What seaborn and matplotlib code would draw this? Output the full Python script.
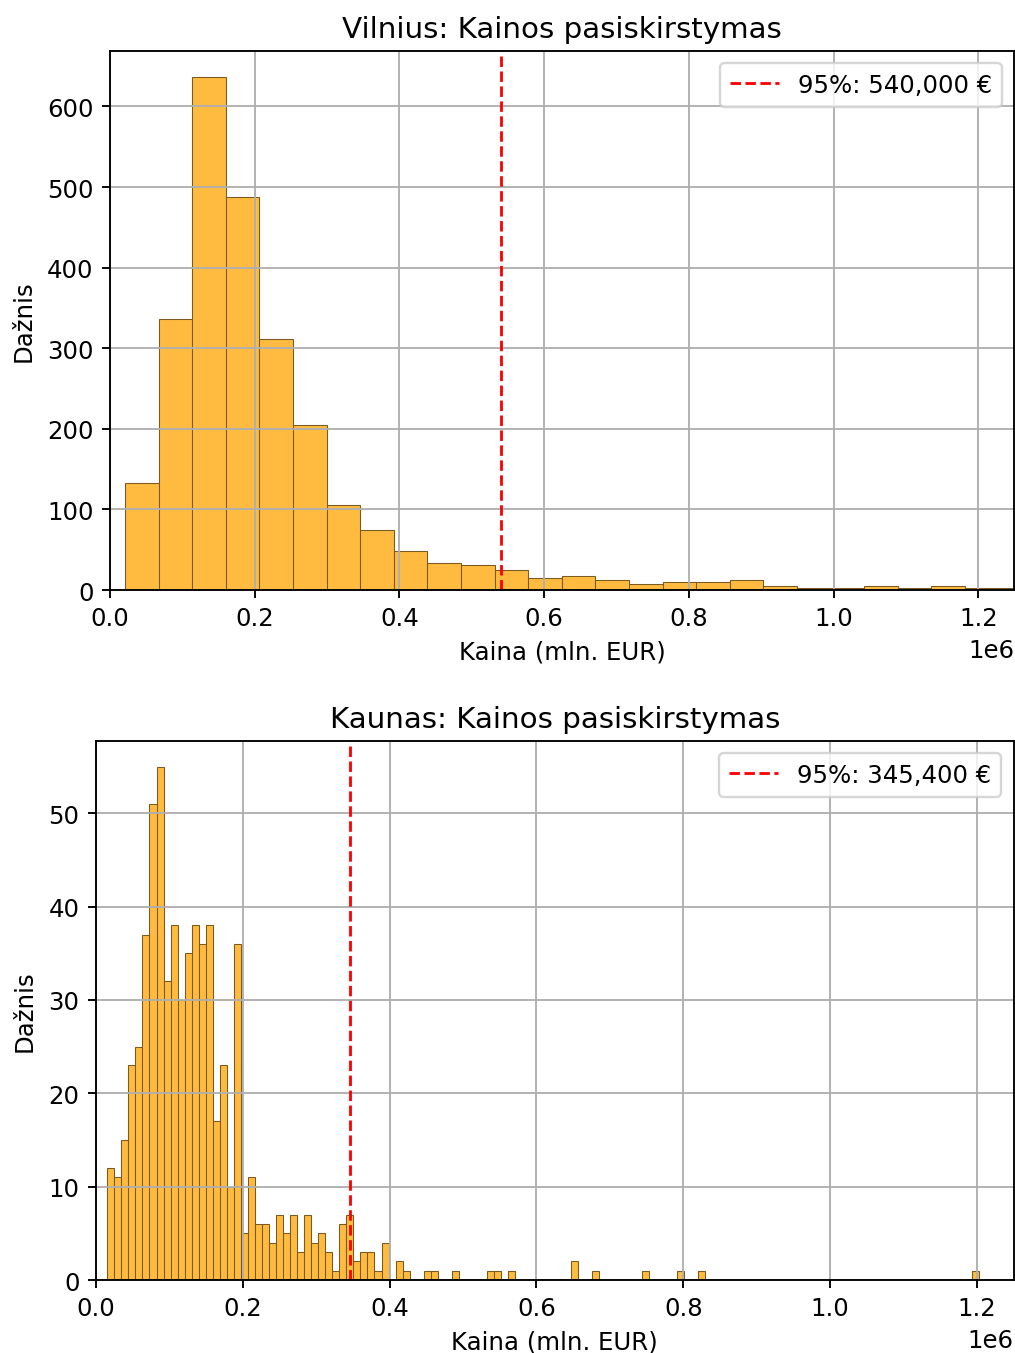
import numpy as np
import seaborn as sns
import pandas as pd
from matplotlib import pyplot as plt

# Vilnius histogram: bin start, bin width and counts per bin
vilnius_start = 20700
vilnius_width = 46440
vilnius_counts = [133, 336, 637, 488, 312, 205, 105, 74, 49, 33,
                  31, 25, 15, 18, 12, 7, 10, 10, 12, 5,
                  2, 2, 5, 2, 5, 2, 2]
vilnius_p95 = 540000

# Kaunas histogram
kaunas_start = 15400
kaunas_width = 9578
kaunas_counts = [12, 11, 15, 23, 25, 37, 51, 55, 32, 38, 30, 35, 38, 36, 38, 17, 23, 10, 36, 5,
                 11, 6, 6, 4, 7, 5, 7, 3, 7, 4, 5, 3, 1, 6, 7, 2, 3, 3, 1, 4,
                 0, 2, 1, 0, 0, 1, 1, 0, 0, 1, 0, 0, 0, 0, 1, 1, 0, 1, 0, 0,
                 0, 0, 0, 0, 0, 0, 2, 0, 0, 1, 0, 0, 0, 0, 0, 0, 1, 0, 0, 0,
                 0, 1, 0, 0, 1, 0, 0, 0, 0, 0, 0, 0, 0, 0, 0, 0, 0, 0, 0, 0,
                 0, 0, 0, 0, 0, 0, 0, 0, 0, 0, 0, 0, 0, 0, 0, 0, 0, 0, 0, 0,
                 0, 0, 0, 1]
kaunas_p95 = 345400

cities = [
    ("Vilnius", vilnius_start, vilnius_width, vilnius_counts, vilnius_p95),
    ("Kaunas", kaunas_start, kaunas_width, kaunas_counts, kaunas_p95),
]

plt.rcParams['font.size'] = 10.4
plt.rcParams['axes.titlesize'] = 12.5

fig = plt.figure(figsize=(6, 7.996), dpi=169.333)
positions = [[0.1083, 0.5635, 0.8902, 0.3981],
             [0.0945, 0.0539, 0.9031, 0.3981]]

for (city, start, width, counts, p95), pos in zip(cities, positions):
    ax = fig.add_axes(pos)
    edges = start + width * np.arange(len(counts) + 1)
    df = pd.DataFrame({'kaina': (edges[:-1] + edges[1:]) / 2, 'n': counts})
    sns.histplot(data=df, x='kaina', weights='n', bins=list(edges), ax=ax,
                 color='orange', alpha=0.75, edgecolor='#7a5a1e', linewidth=0.45)
    # 95th percentile marker
    ax.axvline(p95, color='red', linestyle='--', linewidth=1.2,
               label=f"95%: {p95:,.0f} €")
    ax.set_xlim(0, 1.25e6)
    ax.set_title(f"{city}: Kainos pasiskirstymas")
    ax.set_xlabel("Kaina (mln. EUR)")
    ax.set_ylabel("Dažnis", labelpad=5)
    ax.grid(True)
    ax.legend(loc='upper right')

plt.savefig("out.png", dpi=169.333)
